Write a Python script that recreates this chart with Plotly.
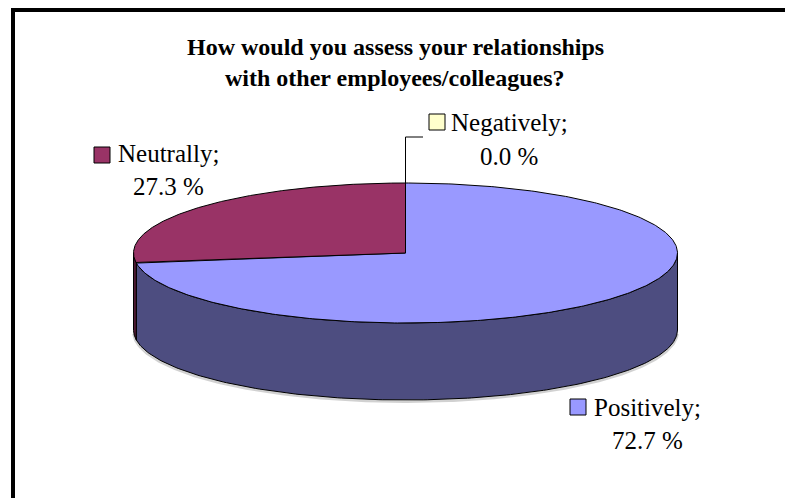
import numpy as np
import plotly.graph_objects as go

# Survey answers and their shares (percent)
title_lines = ["How would you assess your relationships",
               "with other employees/colleagues?"]
categories = ["Positively", "Neutrally", "Negatively"]
values = [72.7, 27.3, 0.0]
top_colors = ["#9999FF", "#993366", "#FFFFCC"]
side_colors = ["#4D4D80", "#4D1A33", "#808066"]

# Pie geometry in pixel-like axis units (y axis reversed)
W, H = 785, 498
cx, cy = 405.5, 253.0
rx, ry = 272.0, 70.0
depth = 77.0

FONT = "Liberation Serif, Times New Roman, serif"


def ellipse(t_deg, dy=0.0):
    t = np.radians(t_deg)
    return cx + rx * np.cos(t), cy - ry * np.sin(t) + dy


total = sum(values)
bounds = []
cum = 0.0
for v in values:
    a0 = 90 - 360 * cum / total
    cum += v
    a1 = 90 - 360 * cum / total
    bounds.append((a1, a0))

fig = go.Figure()

# Front side walls (visible where the rim faces the viewer)
for (a1, a0), col in zip(bounds, side_colors):
    lo, hi = max(a1, -180.0), min(a0, 0.0)
    if hi - lo <= 0:
        continue
    t = np.linspace(lo, hi, 200)
    xt, yt = ellipse(t)
    xb, yb = ellipse(t[::-1], depth)
    fig.add_trace(go.Scatter(
        x=np.concatenate([xt, xb, xt[:1]]),
        y=np.concatenate([yt, yb, yt[:1]]),
        mode="lines", fill="toself", fillcolor=col,
        line=dict(color="black", width=1), hoverinfo="skip", showlegend=False))

# Soft shadow under the base
t = np.linspace(-178, -2, 200)
xs, ys = ellipse(t, depth + 1.5)
fig.add_trace(go.Scatter(x=xs, y=ys, mode="lines",
                         line=dict(color="rgba(0,0,0,0.18)", width=3),
                         hoverinfo="skip", showlegend=False))

# Top faces of the slices
for (a1, a0), col, v in zip(bounds, top_colors, values):
    if v <= 0:
        continue
    t = np.linspace(a0, a1, 400)
    xa, ya = ellipse(t)
    fig.add_trace(go.Scatter(
        x=np.concatenate([[cx], xa, [cx]]),
        y=np.concatenate([[cy], ya, [cy]]),
        mode="lines", fill="toself", fillcolor=col,
        line=dict(color="black", width=1), hoverinfo="skip", showlegend=False))

# Leader line for the zero-size slice
neg_idx = categories.index("Negatively")
a1, a0 = bounds[neg_idx]
lx, ly = ellipse((a0 + a1) / 2)
fig.add_trace(go.Scatter(x=[lx, lx, 423], y=[ly, 137, 137], mode="lines",
                         line=dict(color="black", width=1),
                         hoverinfo="skip", showlegend=False))

annotations = []
shapes = []

# Title
for txt, yy in zip(title_lines, [47, 78]):
    annotations.append(dict(x=395, y=yy, text=f"<b>{txt}</b>", showarrow=False,
                            xanchor="center", yanchor="middle",
                            font=dict(family=FONT, size=24, color="black")))

# Data labels: name line, value line, colour key
label_pos = {
    "Neutrally": dict(cx=168, y1=153, y2=186, key=(94, 147)),
    "Negatively": dict(cx=509, y1=122, y2=156, key=(429, 114)),
    "Positively": dict(cx=647, y1=407, y2=440, key=(570, 399)),
}
for name, v, col in zip(categories, values, top_colors):
    p = label_pos[name]
    annotations.append(dict(x=p["cx"], y=p["y1"], text=f"{name};", showarrow=False,
                            xanchor="center", yanchor="middle",
                            font=dict(family=FONT, size=25, color="black")))
    annotations.append(dict(x=p["cx"], y=p["y2"], text=f"{v:.1f} %", showarrow=False,
                            xanchor="center", yanchor="middle",
                            font=dict(family=FONT, size=25, color="black")))
    kx, ky = p["key"]
    shapes.append(dict(type="rect", x0=kx, x1=kx + 16, y0=ky, y1=ky + 16,
                       fillcolor=col, line=dict(color="black", width=1), layer="above"))

# Chart frame (top and left edges)
shapes.append(dict(type="line", x0=11, x1=W, y0=10, y1=10,
                   line=dict(color="black", width=4)))
shapes.append(dict(type="line", x0=13, x1=13, y0=8, y1=H,
                   line=dict(color="black", width=4)))

fig.update_layout(
    width=W, height=H,
    margin=dict(l=0, r=0, t=0, b=0),
    paper_bgcolor="white", plot_bgcolor="white",
    xaxis=dict(range=[0, W], visible=False, fixedrange=True),
    yaxis=dict(range=[H, 0], visible=False, fixedrange=True),
    annotations=annotations, shapes=shapes,
    showlegend=False,
)

fig.write_html("out.html")
